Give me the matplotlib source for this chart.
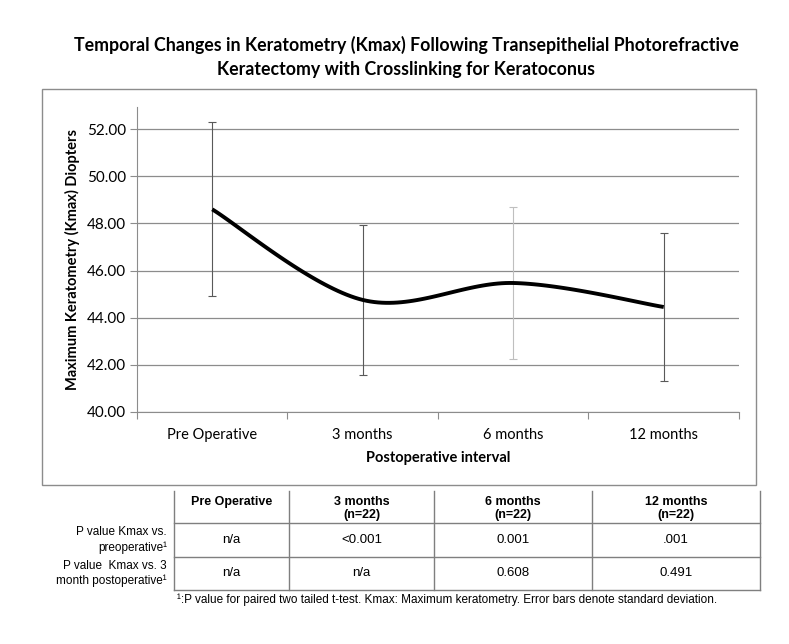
import numpy as np
import matplotlib.pyplot as plt
from matplotlib.patches import Rectangle

# data
categories = ['Pre Operative', '3 months', '6 months', '12 months']
kmax_mean = [48.60, 44.75, 45.47, 44.45]
kmax_sd = [3.70, 3.20, 3.24, 3.15]
bar_colors = ['#595959', '#595959', '#bfbfbf', '#595959']

title = ('Temporal Changes in Keratometry (Kmax) Following Transepithelial Photorefractive\n'
         'Keratectomy with Crosslinking for Keratoconus')

col_headers = ['Pre Operative', '3 months\n(n=22)', '6 months\n(n=22)', '12 months\n(n=22)']
row_labels = ['P value Kmax vs.\npreoperative\u00b9', 'P value  Kmax vs. 3\nmonth postoperative\u00b9']
cell_text = [['n/a', '<0.001', '0.001', '.001'],
             ['n/a', 'n/a', '0.608', '0.491']]
footnote = ('\u00b9:P value for paired two tailed t-test. Kmax: Maximum keratometry. '
            'Error bars denote standard deviation.')

chart_font = ['Lato', 'DejaVu Sans']
table_font = ['Liberation Sans Narrow', 'Liberation Sans', 'DejaVu Sans']


def excel_smooth(xs, ys, n=40):
    # bezier smoothing like Excel's "smoothed line"
    px = np.array(xs, float)
    py = np.array(ys, float)
    ex = np.concatenate([[px[0]], px, [px[-1]]])
    ey = np.concatenate([[py[0]], py, [py[-1]]])
    t = np.linspace(0, 1, n)
    out_x, out_y = [], []
    for i in range(len(px) - 1):
        p0 = np.array([ex[i + 1], ey[i + 1]])
        p3 = np.array([ex[i + 2], ey[i + 2]])
        c1 = p0 + (p3 - np.array([ex[i], ey[i]])) / 6
        c2 = p3 - (np.array([ex[i + 3], ey[i + 3]]) - p0) / 6
        b = ((1 - t) ** 3)[:, None] * p0 + (3 * (1 - t) ** 2 * t)[:, None] * c1 \
            + (3 * (1 - t) * t ** 2)[:, None] * c2 + (t ** 3)[:, None] * p3
        out_x.extend(b[:, 0])
        out_y.extend(b[:, 1])
    return np.array(out_x), np.array(out_y)


fig = plt.figure(figsize=(7.89, 6.44), dpi=100)

# background layer in pixel coordinates for box and table
bg = fig.add_axes([0, 0, 1, 1])
bg.set_xlim(0, 789)
bg.set_ylim(644, 0)
bg.axis('off')
bg.add_patch(Rectangle((42, 89), 714, 396, fill=False, edgecolor='#8c8c8c', lw=1))

fig.text(0.515, 0.912, title, ha='center', va='center', fontsize=12.8, fontweight='bold',
         family=chart_font, linespacing=1.5)

ax = fig.add_axes([0.1736, 0.3607, 0.763, 0.4732])
xpos = np.arange(len(categories)) + 0.5
sx, sy = excel_smooth(xpos, kmax_mean)
for i in range(len(categories)):
    ax.errorbar(xpos[i], kmax_mean[i], yerr=kmax_sd[i], fmt='none', ecolor=bar_colors[i],
                elinewidth=0.8, capsize=3, capthick=0.8, zorder=2)
ax.plot(sx, sy, color='black', lw=2.8, solid_capstyle='butt', zorder=3)

ax.set_xlim(0, len(categories))
ax.set_ylim(40, 52.95)
ax.set_yticks(np.arange(40, 53, 2))
ax.set_yticklabels([f'{v:.2f}' for v in np.arange(40, 53, 2)])
ax.set_xticks(np.arange(len(categories) + 1))
ax.set_xticklabels([])
ax.set_xticks(xpos, minor=True)
ax.set_xticklabels(categories, minor=True)
ax.tick_params(axis='x', which='minor', length=0, pad=12)
ax.tick_params(axis='x', which='major', length=5, color='#8c8c8c')
ax.tick_params(axis='y', length=5, color='#8c8c8c', pad=3)
for lab in ax.get_xticklabels(minor=True):
    lab.set_family(chart_font)
    lab.set_fontsize(10.5)
for lab in ax.get_yticklabels():
    lab.set_family(chart_font)
    lab.set_fontsize(11)
ax.grid(axis='y', color='#8c8c8c', lw=0.9)
ax.set_axisbelow(True)
for s in ['top', 'right']:
    ax.spines[s].set_visible(False)
ax.spines['left'].set_color('#8c8c8c')
ax.spines['bottom'].set_color('#8c8c8c')
ax.set_xlabel('Postoperative interval', fontsize=10.5, fontweight='bold', family=chart_font, labelpad=6)
ax.set_ylabel('Maximum Keratometry (Kmax) Diopters', fontsize=10.5, fontweight='bold',
              family=chart_font, labelpad=5)

# table under the chart
col_edges = [174, 289, 434, 592, 760]
row_edges = [491, 523, 557, 590]
for xe in col_edges:
    bg.plot([xe, xe], [row_edges[0], row_edges[-1]], color='#7f7f7f', lw=1)
for ye in row_edges[1:]:
    bg.plot([col_edges[0], col_edges[-1]], [ye, ye], color='#7f7f7f', lw=1)

for j, h in enumerate(col_headers):
    cx = (col_edges[j] + col_edges[j + 1]) / 2
    bg.text(cx, 496, h, ha='center', va='top', fontsize=9, fontweight='bold',
            family=table_font, linespacing=1.15)
for i, row in enumerate(cell_text):
    cy = (row_edges[i + 1] + row_edges[i + 2]) / 2
    bg.text(167, cy, row_labels[i], ha='right', va='center', fontsize=8.5,
            family=table_font, linespacing=1.35)
    for j, v in enumerate(row):
        cx = (col_edges[j] + col_edges[j + 1]) / 2
        bg.text(cx, cy, v, ha='center', va='center', fontsize=9.5, family=table_font)
bg.text(177, 600, footnote, ha='left', va='center', fontsize=8.5, family=table_font)

fig.savefig('out.png', dpi=100)
